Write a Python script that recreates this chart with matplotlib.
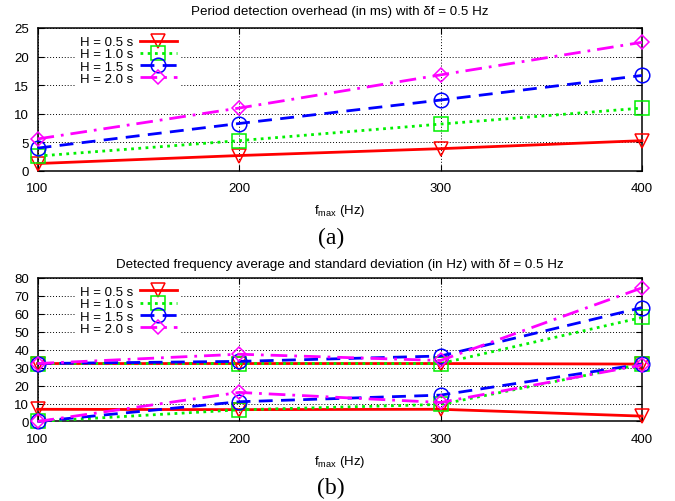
import matplotlib
matplotlib.use("Agg")
import matplotlib.pyplot as plt

plt.rcParams['font.family'] = ['Liberation Sans', 'DejaVu Sans']
plt.rcParams['mathtext.fontset'] = 'custom'
plt.rcParams['mathtext.rm'] = 'Liberation Sans'

# f_max values (Hz)
fmax = [100, 200, 300, 400]
series_labels = ["H = 0.5 s", "H = 1.0 s", "H = 1.5 s", "H = 2.0 s"]

# (a) period detection overhead, in ms
overhead_h05 = [1.3, 2.7, 3.9, 5.3]
overhead_h10 = [2.6, 5.3, 8.2, 11.0]
overhead_h15 = [4.0, 8.3, 12.4, 16.7]
overhead_h20 = [5.6, 11.0, 16.8, 22.5]

# (b) detected frequency average and standard deviation, in Hz
avg_h05 = [32.3, 32.3, 32.3, 32.0]
avg_h10 = [32.3, 32.3, 32.3, 58.0]
avg_h15 = [32.3, 33.5, 36.5, 63.5]
avg_h20 = [32.3, 37.5, 34.0, 74.5]
std_h05 = [6.8, 6.6, 6.8, 3.0]
std_h10 = [0.0, 6.5, 9.5, 32.0]
std_h15 = [0.0, 11.0, 14.7, 32.0]
std_h20 = [0.0, 16.2, 10.6, 31.5]

styles = [
    dict(color="#ff0000", linestyle="-", marker="v"),
    dict(color="#00f000", linestyle=(0, (1, 1.6)), marker="s"),
    dict(color="#0000ff", linestyle=(0, (5, 3)), marker="o"),
    dict(color="#ff00ff", linestyle=(0, (6, 2.5, 1, 2.5)), marker="D"),
]
marker_sizes = [9.5, 9.5, 10.5, 7.5]

fig = plt.figure(figsize=(6.75, 5.02), dpi=100)
ax_a = fig.add_axes([0.0556, 0.6574, 0.8956, 0.2849])
ax_b = fig.add_axes([0.0556, 0.1584, 0.8956, 0.2859])


def style_axes(ax, ymax, ystep, title, title_pad):
    ax.set_xlim(100, 400)
    ax.set_ylim(0, ymax)
    ax.set_xticks(fmax)
    ax.set_yticks(range(0, ymax + 1, ystep))
    ax.tick_params(direction="in", length=4, width=0.8, top=True, right=True,
                   labelsize=9.5)
    ax.tick_params(axis="x", pad=8)
    ax.tick_params(axis="y", pad=6)
    ax.grid(True, color="black", linestyle=(0, (1, 2)), linewidth=0.7)
    ax.set_axisbelow(True)
    for sp in ax.spines.values():
        sp.set_linewidth(1.1)
    ax.set_title(title, fontsize=9.6, pad=title_pad)
    ax.set_xlabel("f$_{\\mathrm{max}}$ (Hz)", fontsize=9.5, labelpad=6)


def draw(ax, x, y, i, label):
    st = styles[i]
    ax.plot(x, y, color=st["color"], linestyle=st["linestyle"], linewidth=2.0,
            marker=st["marker"], markersize=marker_sizes[i],
            markerfacecolor="none", markeredgecolor=st["color"],
            markeredgewidth=1.1, clip_on=False, label=label, zorder=3)


def add_legend(ax):
    leg = ax.legend(loc="upper left", bbox_to_anchor=(0.057, 1.0),
                    markerfirst=False, fontsize=9.5, handlelength=2.8,
                    handletextpad=0.5, labelspacing=0.0, borderpad=0.3,
                    borderaxespad=0.3, frameon=True, fancybox=False,
                    framealpha=1.0, facecolor="white", edgecolor="none")
    leg.set_zorder(2)
    for t in leg.get_texts():
        t.set_ha("right")


style_axes(ax_a, 25, 5, "Period detection overhead (in ms) with \u03b4f = 0.5 Hz", 10)
for i, (vals, lab) in enumerate(zip(
        [overhead_h05, overhead_h10, overhead_h15, overhead_h20], series_labels)):
    draw(ax_a, fmax, vals, i, lab)
add_legend(ax_a)

style_axes(ax_b, 80, 10,
           "Detected frequency average and standard deviation (in Hz) with \u03b4f = 0.5 Hz", 8)
for i, (avg, std, lab) in enumerate(zip(
        [avg_h05, avg_h10, avg_h15, avg_h20],
        [std_h05, std_h10, std_h15, std_h20], series_labels)):
    draw(ax_b, fmax, avg, i, lab)
    draw(ax_b, fmax, std, i, None)
add_legend(ax_b)

fig.text(0.49, 1 - 238 / 502, "(a)", ha="center", va="center",
         family="Liberation Serif", fontsize=17)
fig.text(0.49, 1 - 488 / 502, "(b)", ha="center", va="center",
         family="Liberation Serif", fontsize=17)

fig.savefig("out.png", dpi=100)
